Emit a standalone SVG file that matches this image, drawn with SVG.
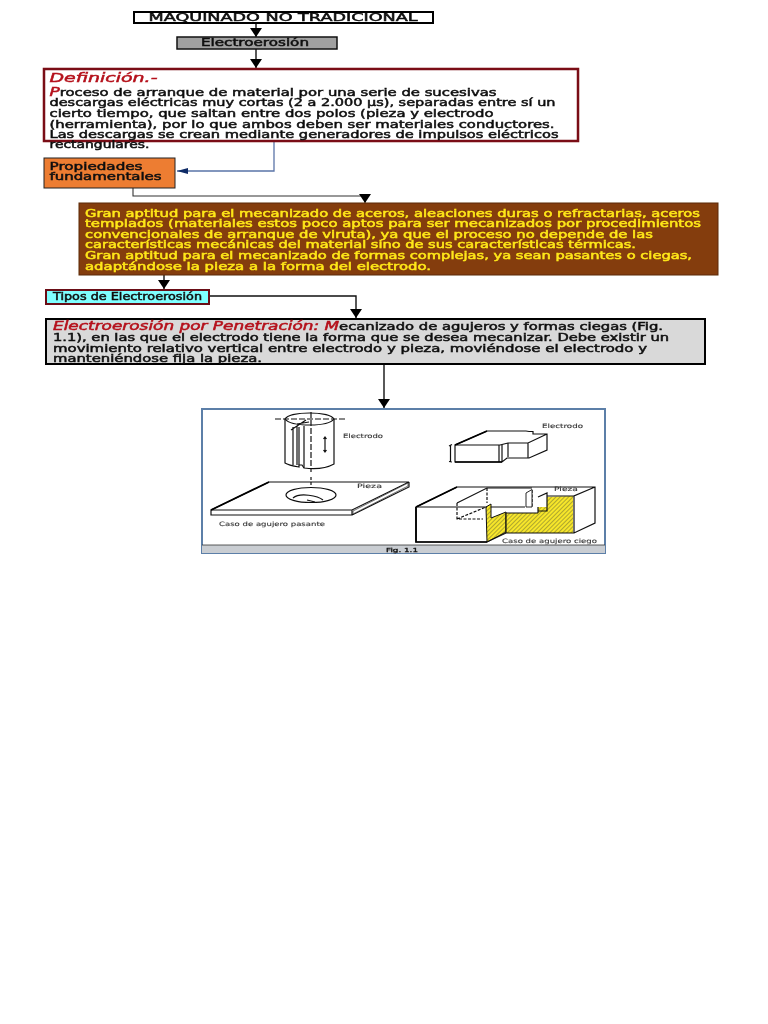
<svg xmlns="http://www.w3.org/2000/svg" width="768" height="1024" viewBox="0 0 768 1024">
<style>
text{font-family:"DejaVu Sans","Liberation Sans",sans-serif;font-size:10.5px;font-weight:normal;fill:#111;stroke:#111;stroke-width:.5px}
.y{fill:#ffe81a;stroke:#ffe81a}
.r{fill:#b5121b;stroke:#b5121b;font-style:italic}
.l{fill:none;stroke:#111;stroke-width:1.4}
.f{fill:none;stroke:#111;stroke-width:1.2}
.t{font-size:6px;stroke-width:.1px;fill:#333;stroke:#333}
.soft{filter:url(#s)}
</style>
<defs>
<filter id="s" x="-2%" y="-2%" width="104%" height="104%"><feGaussianBlur stdDeviation="0.35"/></filter>
<marker id="a" markerWidth="12" markerHeight="12" refX="9" refY="6" orient="auto" markerUnits="userSpaceOnUse"><path d="M0 0L9 6L0 12Z" fill="#000"/></marker>
<marker id="b" markerWidth="12" markerHeight="8" refX="11" refY="3.500" orient="auto" markerUnits="userSpaceOnUse"><path d="M0 0.5L11 3.500L0 6.500Z" fill="#0d2a66"/></marker>
<pattern id="h" width="3" height="3" patternUnits="userSpaceOnUse" patternTransform="rotate(-45)"><rect width="3" height="3" fill="#f7e62a"/><rect width="3" height=".7" fill="#8f8a30"/></pattern>
</defs>
<g id="connectors" class="soft">
<path class="l" d="M256 23V37" marker-end="url(#a)"/>
<path class="l" d="M256 49V68" marker-end="url(#a)"/>
<path d="M274 141V171H177" fill="none" stroke="#5a74a8" stroke-width="1.3" marker-end="url(#b)"/>
<path d="M133 188V196H365V203" fill="none" stroke="#333" stroke-width="1.1" marker-end="url(#a)"/>
<path class="l" d="M164 275V289" marker-end="url(#a)"/>
<path class="l" d="M209 296H356V318" marker-end="url(#a)"/>
<path class="l" d="M384 364V408" marker-end="url(#a)"/>
</g>
<g id="n1" class="soft"><rect x="134" y="12" width="299" height="11" fill="#fff" stroke="#000" stroke-width="2"/>
<text x="148.500" y="21" style="font-size:11px" textLength="269" lengthAdjust="spacingAndGlyphs">MAQUINADO NO TRADICIONAL</text></g>
<g id="n2" class="soft"><rect x="177" y="37" width="160" height="12" fill="#a0a0a0" stroke="#111" stroke-width="1.5"/>
<text x="201" y="46" textLength="108" lengthAdjust="spacingAndGlyphs">Electroerosión</text></g>
<g id="n3" class="soft"><rect x="44" y="69" width="534" height="72" fill="#fff" stroke="#7a0c14" stroke-width="2.5"/>
<text x="49.500" y="82" class="r" style="font-size:13px" textLength="108" lengthAdjust="spacingAndGlyphs">Definición.-</text>
<text x="49.500" y="96" textLength="447" lengthAdjust="spacingAndGlyphs"><tspan class="r" style="font-size:12px">P</tspan>roceso de arranque de material por una serie de sucesivas</text>
<text x="49.500" y="106" textLength="506" lengthAdjust="spacingAndGlyphs">descargas eléctricas muy cortas (2 a 2.000 µs), separadas entre sí un</text>
<text x="49.500" y="117" textLength="444" lengthAdjust="spacingAndGlyphs">cierto tiempo, que saltan entre dos polos (pieza y electrodo</text>
<text x="49.500" y="128" textLength="505" lengthAdjust="spacingAndGlyphs">(herramienta), por lo que ambos deben ser materiales conductores.</text>
<text x="49.500" y="138" textLength="509" lengthAdjust="spacingAndGlyphs">Las descargas se crean mediante generadores de impulsos eléctricos</text>
<text x="49.500" y="148" textLength="100" lengthAdjust="spacingAndGlyphs">rectangulares.</text></g>
<g id="n4" class="soft"><rect x="44" y="158" width="131" height="30" fill="#ed7d31" stroke="#222" stroke-width="1"/>
<text x="49.500" y="170" textLength="93" lengthAdjust="spacingAndGlyphs">Propiedades</text>
<text x="49.500" y="180" textLength="112" lengthAdjust="spacingAndGlyphs">fundamentales</text></g>
<g id="n5" class="soft"><rect x="79" y="203" width="639" height="72" fill="#843c0c" stroke="#5a2a08" stroke-width="1"/>
<text class="y" x="85" y="217" textLength="615" lengthAdjust="spacingAndGlyphs">Gran aptitud para el mecanizado de aceros, aleaciones duras o refractarias, aceros</text>
<text class="y" x="85" y="227" textLength="616" lengthAdjust="spacingAndGlyphs">templados (materiales estos poco aptos para ser mecanizados por procedimientos</text>
<text class="y" x="85" y="238" textLength="568" lengthAdjust="spacingAndGlyphs">convencionales de arranque de viruta), ya que el proceso no depende de las</text>
<text class="y" x="85" y="248" textLength="551" lengthAdjust="spacingAndGlyphs">características mecánicas del material sino de sus características térmicas.</text>
<text class="y" x="85" y="259" textLength="607" lengthAdjust="spacingAndGlyphs">Gran aptitud para el mecanizado de formas complejas, ya sean pasantes o ciegas,</text>
<text class="y" x="85" y="270" textLength="346" lengthAdjust="spacingAndGlyphs">adaptándose la pieza a la forma del electrodo.</text></g>
<g id="n6" class="soft"><rect x="46" y="290" width="163" height="14" fill="#7fffff" stroke="#6a0c12" stroke-width="2"/>
<text x="53" y="300" textLength="149" lengthAdjust="spacingAndGlyphs">Tipos de Electroerosión</text></g>
<g id="n7" class="soft"><rect x="46" y="319" width="659" height="45" fill="#d9d9d9" stroke="#000" stroke-width="2"/>
<text x="53" y="330" textLength="610" lengthAdjust="spacingAndGlyphs"><tspan class="r" style="font-size:12px">Electroerosión por Penetración: M</tspan>ecanizado de agujeros y formas ciegas (Fig.</text>
<text x="53" y="341" textLength="616" lengthAdjust="spacingAndGlyphs">1.1), en las que el electrodo tiene la forma que se desea mecanizar. Debe existir un</text>
<text x="53" y="352" textLength="594" lengthAdjust="spacingAndGlyphs">movimiento relativo vertical entre electrodo y pieza, moviéndose el electrodo y</text>
<text x="53" y="362" textLength="209" lengthAdjust="spacingAndGlyphs">manteniéndose fija la pieza.</text></g>
<g id="figure" class="soft">
<rect x="202" y="409" width="403" height="144" fill="#fff" stroke="#5b7fa8" stroke-width="2"/>
<rect x="202" y="545" width="403" height="8" fill="#c9cdd2"/>
<path d="M202 545H605" stroke="#333" stroke-width=".8"/>
<text x="386" y="552" style="font-size:5.500px;stroke-width:.3px" textLength="32" lengthAdjust="spacingAndGlyphs">Fig. 1.1</text>
<path class="f" d="M285 419C290 411 329 411 334 419V464C325 469 312 469 304 468L302 465H299V467C293 466 288 465 285 463Z"/>
<path class="f" stroke-width=".8" d="M285 419C291 427 328 427 334 419"/>
<path class="f" stroke-width=".9" d="M293 427V465M297 426V465M304 426V468M299 427V465M297 424L309 422M291 430L306 420"/>
<path class="f" stroke-width=".5" d="M275 419H345M311 412V472" stroke-dasharray="6 2"/>
<path class="f" stroke-width=".9" d="M325 437V452M323.500 439L325 437L326.500 439M323.500 450L325 452L326.500 450"/>
<text class="t" x="343" y="438" textLength="40" lengthAdjust="spacingAndGlyphs">Electrodo</text>
<path class="f" d="M211 510L269 482H409L352 510H211V515H352V510M352 515L409 487V482" stroke-width="1.1"/>
<path d="M211 510L269 482" stroke="#000" stroke-width="1.8"/>
<path d="M353 511L408 483V486L353 514Z" fill="#fff" stroke="#111" stroke-width=".6"/>
<ellipse class="f" cx="311" cy="495" rx="25" ry="7.500"/>
<path class="f" stroke-width="1.2" d="M293 498C300 492 318 496 323 500M307 500L315 502"/>
<path class="f" d="M311 477V488" stroke-dasharray="3 2" stroke-width=".7"/>
<text class="t" x="357" y="488" textLength="25" lengthAdjust="spacingAndGlyphs">Pieza</text>
<text class="t" x="219" y="526" textLength="106" lengthAdjust="spacingAndGlyphs">Caso de agujero pasante</text>
<path d="M455 445L487 431H533L547 434V450L529 458L507 457L502 462H455Z" fill="#fff"/>
<path class="f" stroke-width="1.1" d="M455 445L487 431H526L529 431.500H533V434L547 434V450L529 458H507L502 462H455ZM455 445H500L508 443H528L547 434M499 445V462M502 445V462M508 443V457M528 443V458"/>
<path d="M455 445L487 431M455 462H502" stroke="#000" stroke-width="1.700"/>
<path class="f" stroke-width=".8" d="M450.500 445V462M449 446L452 444.500M449 461.500L452 462"/>
<text class="t" x="542" y="428" textLength="41" lengthAdjust="spacingAndGlyphs">Electrodo</text>
<path d="M486 507L491 504V518L506 512V532L487 542Z" fill="url(#h)" stroke="#111" stroke-width="1"/>
<path d="M506 513H538V507H547V497L573 496V533H506Z" fill="url(#h)"/>
<path class="f" stroke-width="1.1" d="M416 507L457 487H595V523L574 533H506L487 542H416ZM487 507H416M595 487L574 496V533M574 496H547M506 513V533M491 507H525M506 513H538M538 507V513M547 497V511H538"/>
<path d="M416 507L457 487M416 507V542H487" fill="none" stroke="#000" stroke-width="1.700"/>
<path class="f" stroke-width=".9" d="M457 503L487 488H532"/>
<path class="f" stroke-width=".9" stroke-dasharray="3 1.500" d="M457 503V519H483M457 519L486 507M487 488V503M532 490V507"/>
<path d="M526 493L532 489.500V507L526 507Z" fill="#fff" stroke="#111" stroke-width=".9"/>
<path class="f" stroke-width="1" d="M538 497L547 493V497"/>
<text class="t" x="554" y="491" textLength="24" lengthAdjust="spacingAndGlyphs">Pieza</text>
<text class="t" x="502" y="543" textLength="95" lengthAdjust="spacingAndGlyphs">Caso de agujero ciego</text>
</g>
</svg>
